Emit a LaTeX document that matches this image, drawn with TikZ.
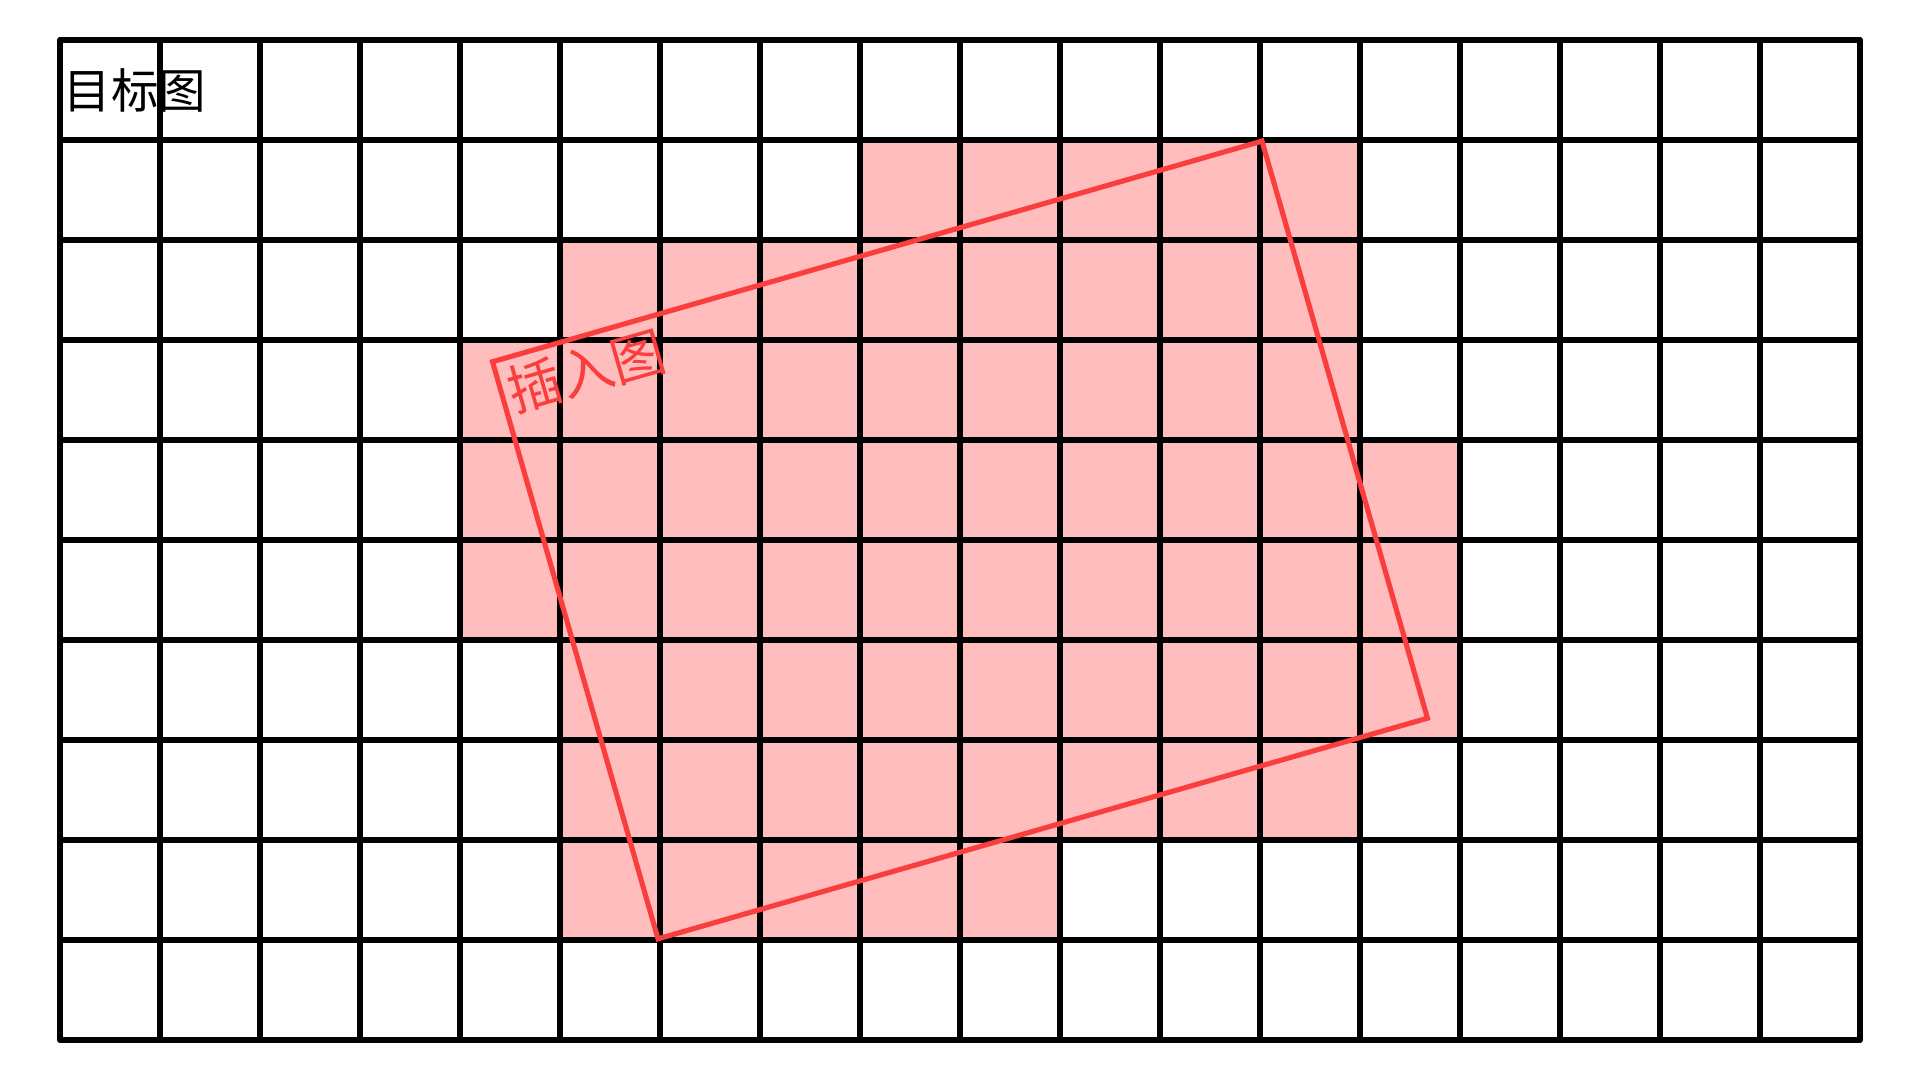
\documentclass[tikz,border=0pt]{standalone}
\usepackage{fontspec}
\newfontfamily\cjk{Noto Sans CJK SC}
\definecolor{pinkfill}{RGB}{255,189,189}
\definecolor{redline}{RGB}{250,62,62}
\begin{document}
\begin{tikzpicture}[x=0.01cm,y=0.01cm,
  gridline/.style={line width=1.55pt,black,line cap=round},
  cellfill/.style={fill=pinkfill,draw=none},
  insbox/.style={draw=redline,line width=1.45pt,line join=miter,minimum width=8cm,minimum height=6cm,inner sep=0pt,rotate=16},
  bigtext/.style={font=\cjk\fontsize{13.5pt}{14pt}\selectfont,inner sep=0pt},
  labeltext/.style={font=\cjk\fontsize{15.3pt}{16pt}\selectfont,inner sep=0pt,text=redline}]
\useasboundingbox (0,0) rectangle (1920,1080);
% pink cells: row (from top) / first col / last col
\foreach \r/\a/\b in {1/8/12,2/5/12,3/4/12,4/4/13,5/4/13,6/5/13,7/5/12,8/5/9}{
  \fill[cellfill] ({60+100*\a},{1040-100*\r}) rectangle ({160+100*\b},{940-100*\r});
}
% grid
\foreach \i in {0,...,18}{ \draw[gridline] ({60+100*\i},40) -- ({60+100*\i},1040); }
\foreach \j in {0,...,10}{ \draw[gridline] (60,{40+100*\j}) -- (1860,{40+100*\j}); }
% inserted picture
\begin{scope}[shift={(960,540)},rotate=16]
  \node[insbox] (ins) at (0,0) {};
  \node[labeltext,rotate=16,anchor=north west] (inslabel) at (-394,291) {插入图};
\end{scope}
\node[bigtext,anchor=west] (target) at (63,990) {目标图};
\end{tikzpicture}
\end{document}
